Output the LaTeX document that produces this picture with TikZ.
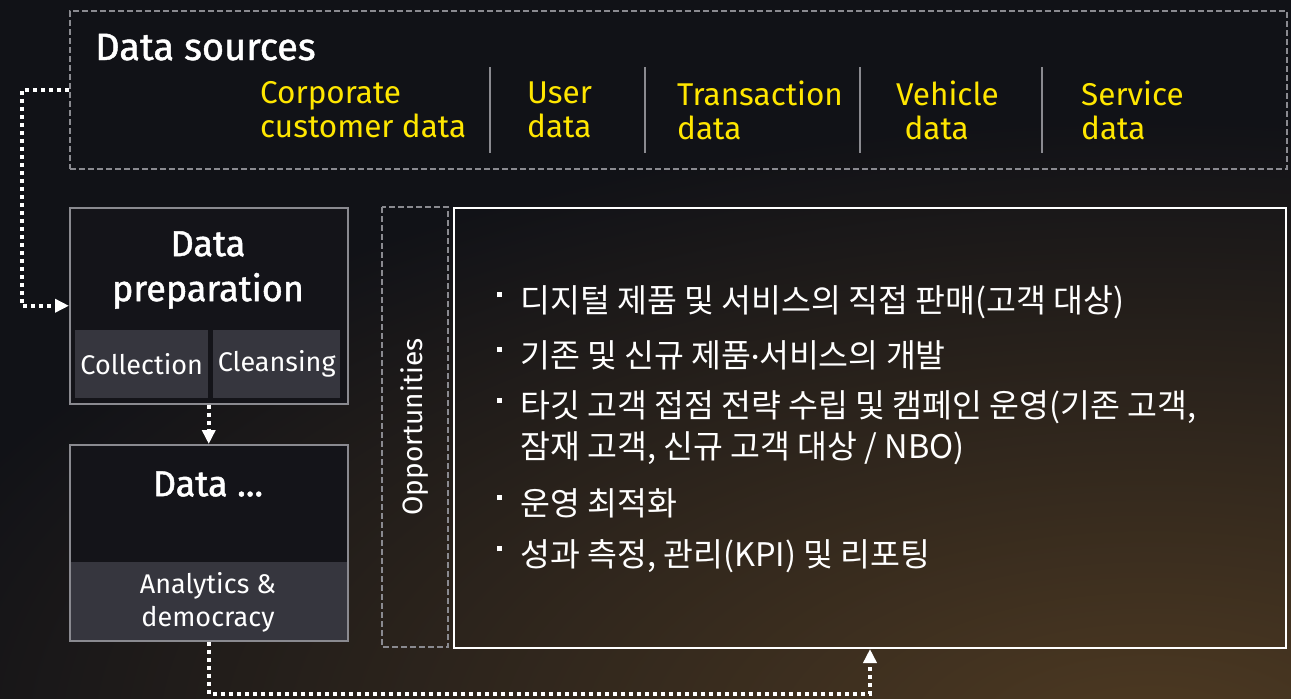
\documentclass[tikz,border=0pt]{standalone}
\usepackage{fontspec}
\setmainfont{Fira Sans}
\newfontfamily\medfont[FakeBold=1.3]{Fira Sans}
\newfontfamily\krfont{Noto Sans CJK KR}
\usetikzlibrary{arrows.meta,positioning}

\definecolor{bgdark}{HTML}{111217}
\definecolor{glow}{HTML}{4E3A22}
\definecolor{boxgray}{HTML}{8A8A90}
\definecolor{subfill}{HTML}{36363E}
\definecolor{stagefill}{HTML}{141419}
\definecolor{eyyellow}{HTML}{FFE600}

\newcommand\sqbullet{\llap{\raisebox{15pt}{\rule{5pt}{5pt}}\hspace{18pt}}}

\tikzset{
  dashbox/.style={draw=boxgray, line width=1.5pt, dash pattern=on 6pt off 3pt},
  stagebox/.style={draw=boxgray, line width=1.5pt, fill=stagefill},
  subbox/.style={fill=subfill, text=white, inner sep=0pt, font=\fontsize{27}{33}\selectfont},
  stagetitle/.style={text=white, align=center, font=\medfont\fontsize{36}{45}\selectfont},
  srctext/.style={text=eyyellow, align=left, inner sep=0pt, font=\fontsize{31.5}{34}\selectfont},
  itemtext/.style={text=white, align=left, inner sep=0pt, font=\krfont\fontsize{32.5}{41}\selectfont},
  flow/.style={white, line width=4pt, dash pattern=on 4pt off 4pt,
    -{Triangle[length=14pt,width=13pt]}},
}

\begin{document}
\begin{tikzpicture}[x=1pt, y=-1pt]
    \useasboundingbox (0,0) rectangle (1291,699);
    % Background
    \fill[bgdark] (0,0) rectangle (1291,699);
    \begin{scope}
      \clip (0,0) rectangle (1291,699);
      \shade[inner color=glow, outer color=bgdark] (1150,740) ellipse (1300 and 620);
    \end{scope}

    % Data sources
    \node[dashbox, anchor=north west, minimum width=1217, minimum height=158] (sources) at (69,10) {};
    \node[text=white, anchor=base west, inner sep=0pt, font=\medfont\fontsize{38}{44}\selectfont] (srctitle) at (95,60) {Data sources};
    \node[srctext, anchor=west] (corp) at (260,110) {Corporate\\customer data};
    \node[srctext, anchor=west] (user) at (527,110) {User\\data};
    \node[srctext, anchor=west] (trans) at (677,110) {Transaction\\data};
    \node[srctext, anchor=west] (vehicle) at (896,110) {Vehicle\\\ data};
    \node[srctext, anchor=west] (service) at (1081,110) {Service\\data};
    \foreach \x in {490,645,860,1042}
      \draw[boxgray, line width=1.2pt] (\x,67) -- (\x,153);

    % Data preparation
    \node[stagebox, anchor=north west, minimum width=278, minimum height=196] (prep) at (69,207) {};
    \node[stagetitle] (preptitle) at (208,270) {Data\\preparation};
    \node[subbox, anchor=north west, minimum width=133, minimum height=68] (collect) at (75,330) {Collection};
    \node[subbox, anchor=north west, minimum width=127, minimum height=68] (cleanse) at (213,330) {Cleansing};

    % Data ...
    \node[stagebox, anchor=north west, minimum width=278, minimum height=196,
      path picture={\fill[subfill] ([yshift=79pt]path picture bounding box.south west)
        rectangle (path picture bounding box.south east);}] (analytics) at (69,444) {};
    \node[stagetitle] (antitle) at (208,484) {Data ...};
    \node[subbox, fill=none, align=center] (democ) at (208,602) {Analytics \&\\democracy};

    % Opportunities
    \node[dashbox, rotate=90, minimum width=440, minimum height=66, text=white,
      font=\fontsize{28}{32}\selectfont] (opplabel) at (415,427) {Opportunities};
    \node[draw=white, line width=2pt, anchor=north west, minimum width=832, minimum height=440] (opps) at (453,207) {};

    \foreach \yy/\txt in {302/{디지털 제품 및 서비스의 직접 판매(고객 대상)},
                          355/{기존 및 신규 제품{\rmfamily·}서비스의 개발},
                          503/{운영 최적화},
                          556/{성과 측정, 관리(KPI) 및 리포팅}}
      \node[itemtext, anchor=west] (item\yy) at (520,\yy) {\sqbullet\txt};
    \node[itemtext, anchor=west] (item408) at (520,428) {\sqbullet 타깃 고객 접점 전략 수립 및 캠페인 운영(기존 고객,\\잠재 고객, 신규 고객 대상 / NBO)};

    % Connections
    \draw[flow] (sources.west) -- ++(-47,0) |- (prep.west);
    \draw[flow] (prep.south) -- (analytics.north);
    \draw[flow] (analytics.south) -- ++(0,52) -| (opps.south);
\end{tikzpicture}
\end{document}
